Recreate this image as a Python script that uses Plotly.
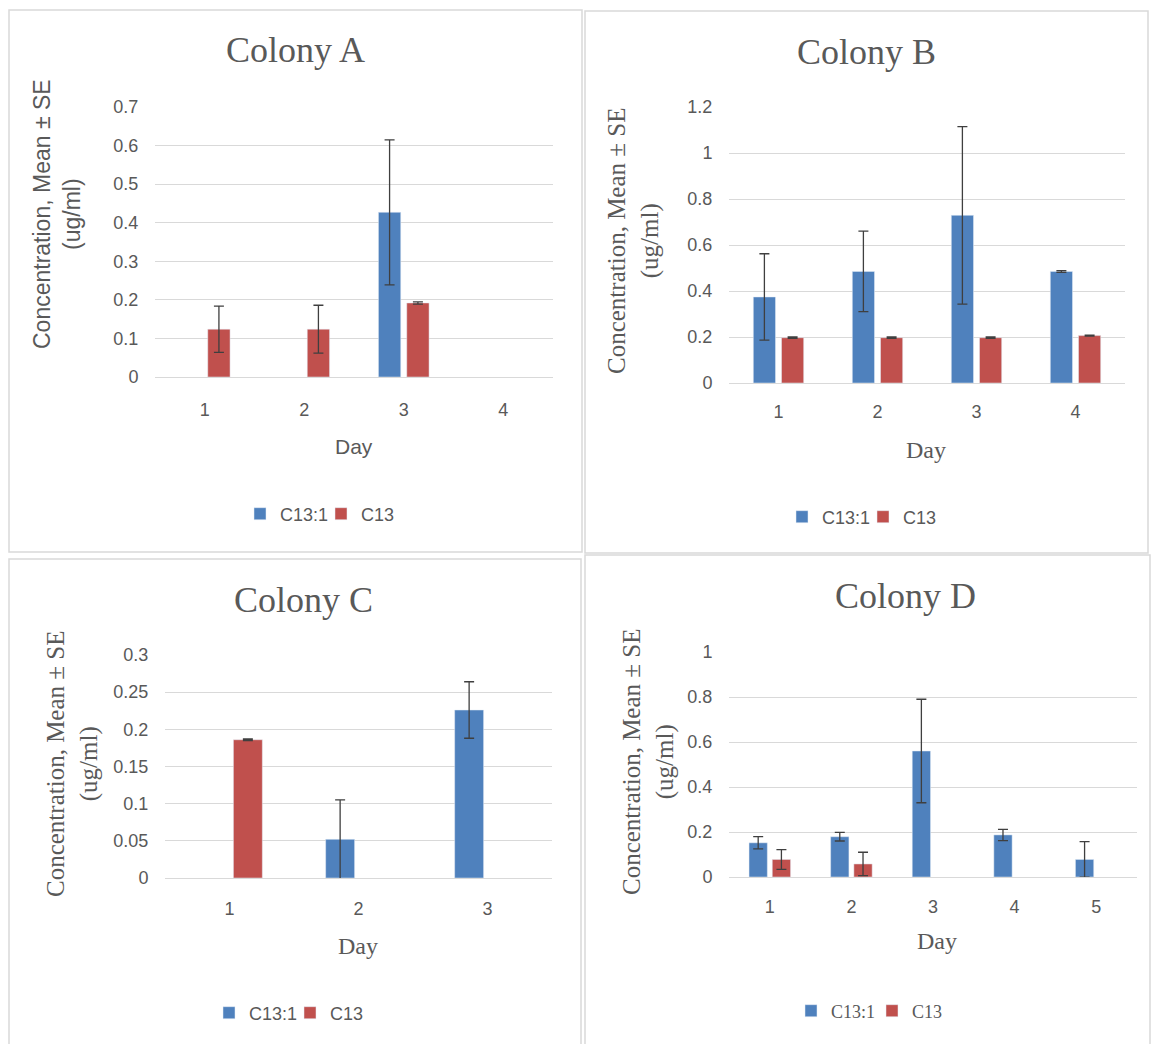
import plotly.graph_objects as go

W, H = 1152, 1044
BLUE = "#4F81BD"
RED = "#C0504D"
TXT = "#595959"
GRID = "#D9D9D9"
SANS = "Liberation Sans, Arial, sans-serif"
SERIF = "Liberation Serif, Times New Roman, serif"

series_names = ["C13:1", "C13"]

# ---- Colony A ----
days_A = ["1", "2", "3", "4"]
a_c131 = [None, None, 0.427, None]
a_c131_se = [0, 0, 0.188, 0]
a_c13 = [0.124, 0.124, 0.192, None]
a_c13_se = [0.06, 0.062, 0.003, 0]
ticks_A = [0, 0.1, 0.2, 0.3, 0.4, 0.5, 0.6, 0.7]
ticktext_A = ["0", "0.1", "0.2", "0.3", "0.4", "0.5", "0.6", "0.7"]

# ---- Colony B ----
days_B = ["1", "2", "3", "4"]
b_c131 = [0.374, 0.485, 0.729, 0.485]
b_c131_se = [0.188, 0.175, 0.386, 0.004]
b_c13 = [0.197, 0.197, 0.197, 0.206]
b_c13_se = [0.003, 0.003, 0.003, 0.002]
ticks_B = [0, 0.2, 0.4, 0.6, 0.8, 1.0, 1.2]
ticktext_B = ["0", "0.2", "0.4", "0.6", "0.8", "1", "1.2"]

# ---- Colony C ----
days_C = ["1", "2", "3"]
c_c131 = [None, 0.052, 0.226]
c_c131_se = [0, 0.053, 0.038]
c_c13 = [0.186, None, None]
c_c13_se = [0.001, 0, 0]
ticks_C = [0, 0.05, 0.1, 0.15, 0.2, 0.25, 0.3]
ticktext_C = ["0", "0.05", "0.1", "0.15", "0.2", "0.25", "0.3"]

# ---- Colony D ----
days_D = ["1", "2", "3", "4", "5"]
d_c131 = [0.152, 0.179, 0.56, 0.187, 0.078]
d_c131_se = [0.027, 0.019, 0.23, 0.025, 0.079]
d_c13 = [0.078, 0.058, None, None, None]
d_c13_se = [0.044, 0.052, 0, 0, 0]
ticks_D = [0, 0.2, 0.4, 0.6, 0.8, 1.0]
ticktext_D = ["0", "0.2", "0.4", "0.6", "0.8", "1"]

y_title = "Concentration, Mean ± SE<br>(ug/ml)"
x_title = "Day"

panels = [
    dict(title="Colony A", days=days_A, s1=a_c131, e1=a_c131_se, s2=a_c13, e2=a_c13_se,
         tv=ticks_A, tt=ticktext_A, yr=0.7,
         xdom=(155, 553), ydom=(107, 377), box=(9, 10, 582, 552),
         tpos=(295, 50), ypos=(57, 214), dpos=(354, 447), lpos=(321, 514),
         axfont=SANS, axsize=23, dayfont=SANS, daysize=21, legfont=SANS, xtl=16),
    dict(title="Colony B", days=days_B, s1=b_c131, e1=b_c131_se, s2=b_c13, e2=b_c13_se,
         tv=ticks_B, tt=ticktext_B, yr=1.2,
         xdom=(729, 1125), ydom=(107, 383), box=(585, 11, 1148, 553),
         tpos=(866, 52), ypos=(633, 241), dpos=(926, 450), lpos=(863, 517),
         axfont=SERIF, axsize=25, dayfont=SERIF, daysize=24, legfont=SANS, xtl=12),
    dict(title="Colony C", days=days_C, s1=c_c131, e1=c_c131_se, s2=c_c13, e2=c_c13_se,
         tv=ticks_C, tt=ticktext_C, yr=0.3,
         xdom=(165, 552), ydom=(655, 878), box=(9, 559, 581, 1060),
         tpos=(303, 600), ypos=(72, 764), dpos=(358, 946), lpos=(290, 1013),
         axfont=SERIF, axsize=25, dayfont=SERIF, daysize=24, legfont=SANS, xtl=14),
    dict(title="Colony D", days=days_D, s1=d_c131, e1=d_c131_se, s2=d_c13, e2=d_c13_se,
         tv=ticks_D, tt=ticktext_D, yr=1.0,
         xdom=(729, 1137), ydom=(652, 877), box=(585, 555, 1150, 1060),
         tpos=(905, 596), ypos=(648, 762), dpos=(937, 941), lpos=(872, 1011),
         axfont=SERIF, axsize=25, dayfont=SERIF, daysize=24, legfont=SERIF, xtl=13),
]


def px(x):
    return x / W


def py(y):
    return 1 - y / H


fig = go.Figure()
layout = dict(
    width=W, height=H, margin=dict(l=0, r=0, t=0, b=0, pad=0, autoexpand=False),
    paper_bgcolor="white", plot_bgcolor="white",
    barmode="group", bargap=0.4305, bargroupgap=0.2126,
    showlegend=True, annotations=[], shapes=[],
)

for i, p in enumerate(panels):
    n = "" if i == 0 else str(i + 1)
    xa, ya = "x" + n, "y" + n
    leg = "legend" + n
    err = dict(type="data", visible=True, color="#3F3F3F", thickness=1.3, width=5)
    fig.add_trace(go.Bar(x=p["days"], y=p["s1"], name=series_names[0], marker_color=BLUE,
                         error_y=dict(err, array=p["e1"]), xaxis=xa, yaxis=ya,
                         legend=leg, showlegend=True))
    fig.add_trace(go.Bar(x=p["days"], y=p["s2"], name=series_names[1], marker_color=RED,
                         error_y=dict(err, array=p["e2"]), xaxis=xa, yaxis=ya,
                         legend=leg, showlegend=True))
    layout["xaxis" + n] = dict(
        domain=[px(p["xdom"][0]), px(p["xdom"][1])], anchor=ya, type="category",
        showgrid=False, zeroline=False, showline=False, automargin=False,
        ticks="outside", ticklen=p["xtl"], tickcolor="rgba(0,0,0,0)",
        tickfont=dict(family=SANS, size=18, color=TXT),
    )
    layout["yaxis" + n] = dict(
        domain=[py(p["ydom"][1]), py(p["ydom"][0])], anchor=xa, automargin=False,
        range=[0, p["yr"]], tickvals=p["tv"], ticktext=p["tt"],
        showgrid=True, gridcolor=GRID, gridwidth=1,
        zeroline=True, zerolinecolor=GRID, zerolinewidth=1, showline=False,
        ticks="outside", ticklen=12, tickcolor="rgba(0,0,0,0)",
        tickfont=dict(family=SANS, size=18, color=TXT),
    )
    layout[leg] = dict(
        orientation="h", x=px(p["lpos"][0]), y=py(p["lpos"][1]),
        xanchor="center", yanchor="middle", bgcolor="rgba(0,0,0,0)",
        font=dict(family=p["legfont"], size=18, color=TXT), itemwidth=30,
        entrywidth=36, entrywidthmode="pixels",
    )
    x0, y0, x1, y1 = p["box"]
    layout["shapes"].append(dict(type="rect", xref="paper", yref="paper",
                                 x0=px(x0), x1=px(x1), y0=py(y1), y1=py(y0),
                                 line=dict(color=GRID, width=1.5), layer="below"))
    layout["annotations"] += [
        dict(text=p["title"], x=px(p["tpos"][0]), y=py(p["tpos"][1]), xref="paper", yref="paper",
             xanchor="center", yanchor="middle", showarrow=False,
             font=dict(family=SERIF, size=36, color=TXT)),
        dict(text=y_title, x=px(p["ypos"][0]), y=py(p["ypos"][1]), xref="paper", yref="paper",
             xanchor="center", yanchor="middle", showarrow=False, textangle=-90,
             font=dict(family=p["axfont"], size=p["axsize"], color=TXT)),
        dict(text=x_title, x=px(p["dpos"][0]), y=py(p["dpos"][1]), xref="paper", yref="paper",
             xanchor="center", yanchor="middle", showarrow=False,
             font=dict(family=p["dayfont"], size=p["daysize"], color=TXT)),
    ]

fig.update_layout(**layout)
fig.write_html("out.html")
